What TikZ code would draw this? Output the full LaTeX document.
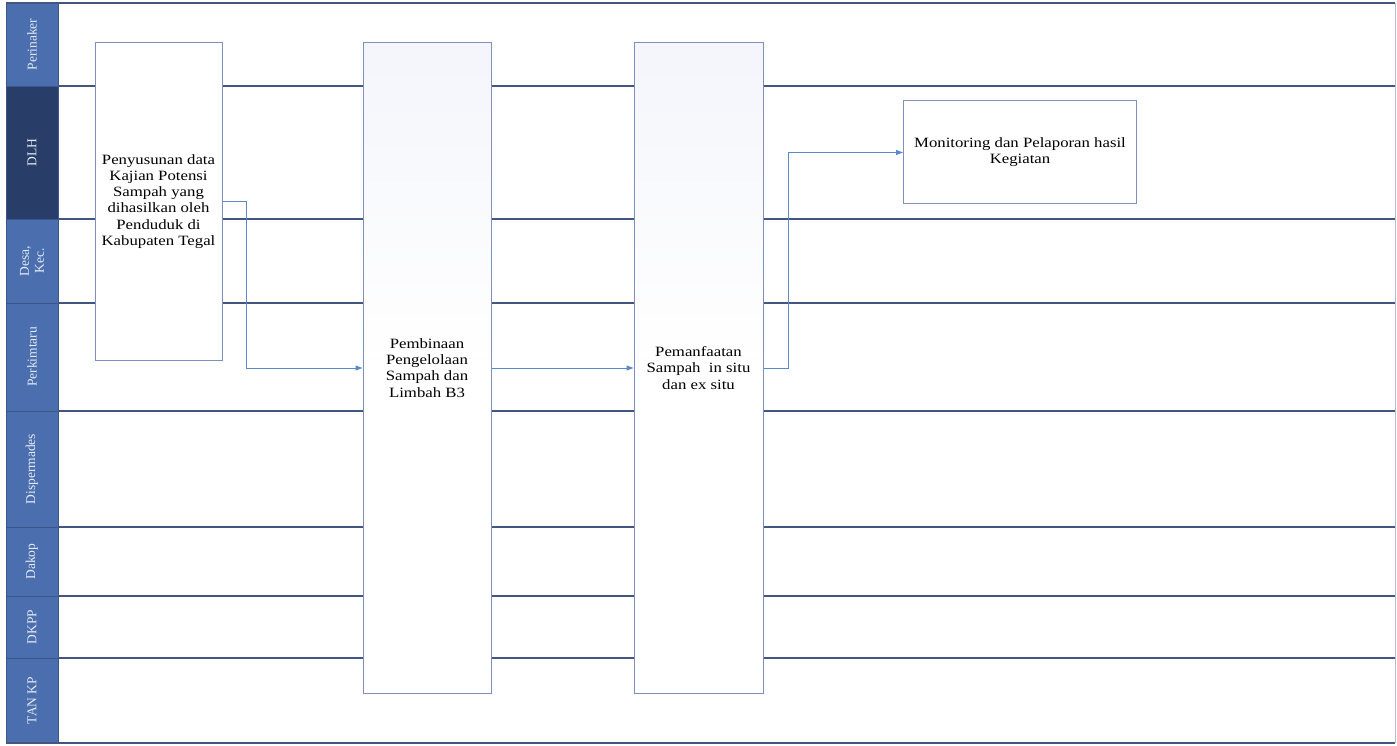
\documentclass[tikz,border=0pt]{standalone}
\usepackage{fontspec}
\setmainfont{Liberation Serif}[FakeStretch=1.18]
\newfontfamily\lanefont{Liberation Serif}
\usetikzlibrary{arrows.meta}
\definecolor{laneline}{HTML}{44557F}
\definecolor{boxline}{HTML}{7F8FBF}
\definecolor{flowarrow}{HTML}{5B8BC7}
\definecolor{lanemid}{HTML}{4B6FAE}
\definecolor{lanedark}{HTML}{283E68}
\definecolor{lanesep}{HTML}{3B568A}
\definecolor{lanetext}{HTML}{E4EAF5}
\definecolor{boxtint}{HTML}{E9ECF7}
\pgfdeclareverticalshading{fadebox}{100bp}{color(0bp)=(white); color(50bp)=(white); color(100bp)=(boxtint)}
\tikzset{
  lanecell/.style={draw=lanesep, line width=0.6pt, fill=lanemid, minimum width=52pt, inner sep=0pt},
  lanelabel/.style={text=lanetext, rotate=90, align=center, font=\lanefont\fontsize{13.5}{15}\selectfont},
  laneborder/.style={draw=laneline, line width=1.1pt},
  procbox/.style={draw=boxline, line width=1pt, fill=white, inner sep=2pt, align=center,
    font=\fontsize{14.2}{16.2}\selectfont},
  flow/.style={draw=flowarrow, line width=1pt, -{Triangle[length=7pt,width=5pt]}}
}
\begin{document}
\begin{tikzpicture}[x=1pt,y=-1pt]
\useasboundingbox (0,0) rectangle (1397,746);
\fill[white] (0,0) rectangle (1397,746);

% lane name column
\node[lanecell, minimum height=83pt] (cPer) at (32,44.5) {};
\node[lanecell, fill=lanedark, minimum height=133pt] (cDlh) at (32,152.5) {};
\node[lanecell, minimum height=84pt] (cDes) at (32,261) {};
\node[lanecell, minimum height=108pt] (cPkt) at (32,357) {};
\node[lanecell, minimum height=116pt] (cDsp) at (32,469) {};
\node[lanecell, minimum height=69pt] (cDak) at (32,561.5) {};
\node[lanecell, minimum height=62pt] (cDkp) at (32,627) {};
\node[lanecell, minimum height=85pt] (cTan) at (32,700.5) {};

\node[lanelabel] (lPer) at (cPer) {Perinaker};
\node[lanelabel] (lDlh) at (cDlh) {DLH};
\node[lanelabel] (lDes) at (cDes) {Desa,\\Kec.};
\node[lanelabel] (lPkt) at (cPkt) {Perkimtaru};
\node[lanelabel] (lDsp) at (cDsp) {Dispermades};
\node[lanelabel] (lDak) at (cDak) {Dakop};
\node[lanelabel] (lDkp) at (cDkp) {DKPP};
\node[lanelabel] (lTan) at (cTan) {TAN KP};

% lane separators and outer frame
\draw[laneborder] (6,3) -- (1395,3);
\draw[laneborder] (6,743) -- (1395,743);
\draw[draw=boxline!60, line width=0.8pt] (1395,3) -- (1395,743);
\foreach \yy in {86,219,303,411,527,596,658}
  \draw[laneborder] (58,\yy) -- (1395,\yy);

% process boxes
\node[procbox, minimum width=127pt, minimum height=318pt] (b1) at (158.5,201.5)
  {Penyusunan data\\Kajian Potensi\\Sampah yang\\dihasilkan oleh\\Penduduk di\\Kabupaten Tegal};
\node[procbox, shading=fadebox, minimum width=128pt, minimum height=650pt] (b2) at (427,368)
  {Pembinaan\\Pengelolaan\\Sampah dan\\Limbah B3};
\node[procbox, shading=fadebox, minimum width=129pt, minimum height=650pt] (b3) at (698.5,368)
  {Pemanfaatan\\Sampah\ \ in situ\\dan ex situ};
\node[procbox, minimum width=233pt, minimum height=103pt] (b4) at (1020,152.5)
  {Monitoring dan Pelaporan hasil\\Kegiatan};

% flow connectors
\draw[flow] (b1.east) -- ++(24,0) |- (b2.west);
\draw[flow] (b2.east) -- (b3.west);
\draw[flow] (b3.east) -- ++(25,0) |- (b4.west);
\end{tikzpicture}
\end{document}
